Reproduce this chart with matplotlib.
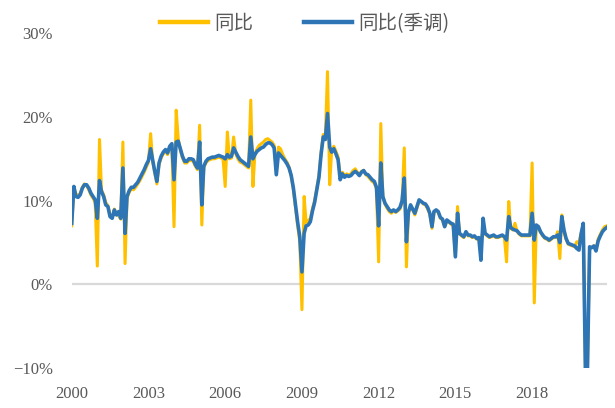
import matplotlib
matplotlib.use("Agg")
import matplotlib.pyplot as plt
from matplotlib.font_manager import FontProperties
import numpy as np
import pandas as pd

# ---- data (monthly, Jan 2000 - Dec 2020) ----
dates = pd.date_range("2000-01-01", periods=252, freq="MS")

yoy = [  # 同比
    7.0, 11.5, 10.8, 10.6, 10.9, 11.6, 12.0, 11.8, 11.3, 10.7, 10.3, 9.8,
    2.2, 17.3, 11.3, 10.7, 9.8, 9.4, 8.3, 8.0, 9.0, 8.4, 8.2, 7.8,
    17.0, 2.5, 10.3, 11.0, 11.4, 11.3, 11.6, 12.0, 12.4, 12.9, 13.4, 14.0,
    14.6, 18.0, 14.7, 13.3, 12.0, 14.3, 15.1, 15.6, 15.9, 15.5, 16.3, 16.6,
    6.9, 20.8, 17.4, 16.0, 15.1, 14.5, 14.5, 14.8, 14.8, 14.7, 14.1, 13.7,
    19.0, 7.1, 14.0, 14.5, 14.8, 14.9, 15.0, 15.0, 15.1, 15.2, 15.1, 15.0,
    11.7, 18.2, 15.0, 15.1, 17.6, 15.6, 15.0, 14.6, 14.5, 14.3, 14.1, 13.9,
    22.0, 11.7, 15.6, 16.2, 16.6, 16.8, 17.0, 17.3, 17.4, 17.2, 17.0, 16.6,
    13.5, 16.4, 16.2, 15.5, 15.0, 14.6, 14.0, 12.9, 11.3, 9.2, 7.0, 5.1,
    -3.0, 10.5, 7.4, 7.6, 7.9, 9.1, 10.0, 11.5, 13.0, 15.8, 17.9, 17.6,
    25.4, 11.9, 16.0, 16.5, 15.9, 15.2, 12.8, 13.4, 13.0, 13.2, 13.1, 13.2,
    13.6, 13.8, 13.4, 13.1, 13.5, 13.6, 13.1, 12.9, 12.6, 12.3, 12.1, 11.4,
    2.7, 19.2, 10.4, 9.6, 9.1, 8.7, 8.5, 8.8, 8.6, 8.8, 9.0, 9.8,
    16.3, 2.1, 8.5, 9.3, 8.9, 8.3, 9.1, 10.0, 9.9, 9.6, 9.5, 9.0,
    8.4, 6.7, 8.6, 8.8, 8.6, 7.9, 7.7, 6.9, 7.6, 7.4, 7.2, 7.0,
    3.5, 9.3, 6.0, 5.8, 5.6, 6.2, 5.8, 5.8, 5.6, 5.7, 5.4, 5.5,
    5.4, 6.3, 6.0, 5.8, 5.6, 5.7, 5.8, 5.6, 5.6, 5.7, 5.8, 5.6,
    2.7, 9.9, 6.7, 6.5, 7.3, 6.3, 6.0, 5.8, 5.8, 5.8, 5.8, 5.8,
    14.5, -2.2, 7.0, 6.8, 6.2, 5.8, 5.5, 5.4, 5.2, 5.4, 5.6, 5.6,
    6.3, 3.1, 8.3, 6.4, 5.4, 4.8, 4.7, 4.6, 4.5, 5.1, 5.0, 6.1,
    7.0, -10.0, -10.0, 4.4, 4.4, 4.6, 4.2, 5.4, 6.0, 6.5, 6.9, 7.0,
]

yoy_sa = [  # 同比(季调)
    7.3, 11.7, 10.5, 10.4, 10.7, 11.5, 11.9, 11.9, 11.5, 10.9, 10.5, 10.1,
    7.9, 12.4, 11.1, 10.5, 9.5, 9.3, 8.1, 7.9, 8.9, 8.3, 8.7, 7.9,
    13.9, 6.1, 10.5, 11.2, 11.6, 11.6, 11.9, 12.2, 12.7, 13.2, 13.7, 14.3,
    14.8, 16.2, 14.9, 13.5, 12.3, 14.5, 15.3, 15.8, 16.1, 15.7, 16.5, 16.8,
    12.5, 17.0, 17.1, 16.2, 15.3, 14.7, 14.7, 15.0, 15.0, 14.9, 14.3, 13.9,
    17.0, 9.5, 14.1, 14.7, 15.0, 15.1, 15.2, 15.2, 15.3, 15.4, 15.3, 15.2,
    15.0, 15.5, 15.2, 15.3, 16.3, 15.8, 15.3, 14.9, 14.7, 14.5, 14.3, 14.1,
    17.6, 15.0, 15.5, 15.9, 16.1, 16.3, 16.4, 16.7, 16.9, 16.9, 16.7, 16.3,
    13.1, 15.7, 15.4, 15.1, 14.8, 14.4, 13.9, 13.0, 11.5, 9.5, 7.4, 5.7,
    1.5, 6.1, 7.0, 7.1, 7.5, 8.8, 9.8, 11.3, 12.8, 15.5, 17.6, 17.3,
    20.4, 16.4, 15.8, 16.2, 15.6, 14.9, 12.5, 13.2, 12.8, 13.0, 12.9, 13.0,
    13.3, 13.5, 13.3, 13.0, 13.4, 13.6, 13.2, 13.1, 12.8, 12.5, 12.3, 11.6,
    7.0, 14.5, 10.5, 9.7, 9.3, 8.9, 8.7, 8.9, 8.7, 8.9, 9.2, 10.0,
    12.7, 5.1, 8.6, 9.5, 9.0, 8.5, 9.3, 10.1, 9.9, 9.7, 9.6, 9.2,
    8.5, 6.9, 8.7, 8.9, 8.7, 8.0, 7.8, 6.9, 7.7, 7.5, 7.3, 7.2,
    3.3, 8.5, 6.1, 5.9, 5.7, 6.3, 5.9, 5.9, 5.7, 5.8, 5.5, 5.6,
    2.9, 7.9, 6.1, 5.9, 5.7, 5.8, 5.9, 5.7, 5.7, 5.8, 5.9, 5.7,
    5.3, 8.1, 6.8, 6.6, 6.5, 6.4, 6.1, 5.9, 5.9, 5.9, 5.9, 5.9,
    8.5, 5.3, 7.1, 6.9, 6.3, 5.9, 5.6, 5.5, 5.3, 5.5, 5.7, 5.7,
    5.9, 5.0, 8.1, 6.5, 5.5, 4.9, 4.8, 4.7, 4.6, 4.3, 4.1, 6.0,
    7.3, -10.2, -10.2, 4.5, 4.4, 4.6, 4.0, 5.2, 5.8, 6.3, 6.6, 6.8,
]

series_labels = ["同比", "同比(季调)"]
series_colors = ["#FFC000", "#2E75B6"]

x_tick_years = [2000, 2003, 2006, 2009, 2012, 2015, 2018]
x_tick_labels = [str(y) for y in x_tick_years]
y_ticks = [-10, 0, 10, 20, 30]
y_tick_labels = ["\u221210%", "0%", "10%", "20%", "30%"]

# ---- figure ----
fig = plt.figure(figsize=(6.15, 4.08), dpi=100)
ax = fig.add_axes([0.1166, 0.0973, 0.8699, 0.8216])

ax.axhline(0, color="#D9D9D9", lw=1.6, zorder=0)
ax.plot(dates, yoy, color=series_colors[0], lw=2.2, label=series_labels[0],
        solid_joinstyle="round", zorder=2)
ax.plot(dates, yoy_sa, color=series_colors[1], lw=2.6, label=series_labels[1],
        solid_joinstyle="round", zorder=3)

ax.set_xlim(dates[0], dates[-1])
ax.set_ylim(-10, 30)

tick_font = FontProperties(family=["Liberation Serif"], size=12)
ax.set_xticks([pd.Timestamp(f"{y}-01-01") for y in x_tick_years])
ax.set_xticklabels(x_tick_labels, fontproperties=tick_font, color="#595959")
ax.set_yticks(y_ticks)
ax.set_yticklabels(y_tick_labels, fontproperties=tick_font, color="#595959")
ax.tick_params(axis="both", length=0)
ax.tick_params(axis="y", pad=13.5)
ax.tick_params(axis="x", pad=12.5)

for s in ax.spines.values():
    s.set_visible(False)

leg_font = FontProperties(family=["Noto Sans CJK SC", "DejaVu Sans"], size=14)
leg = fig.legend(loc="center", bbox_to_anchor=(0.495, 0.942), ncol=2,
                 frameon=False, prop=leg_font, handlelength=2.5,
                 handletextpad=0.3, columnspacing=2.6)
for t in leg.get_texts():
    t.set_color("#595959")
for h in leg.get_lines():
    h.set_linewidth(3.2)

fig.savefig("out.png", dpi=100)
